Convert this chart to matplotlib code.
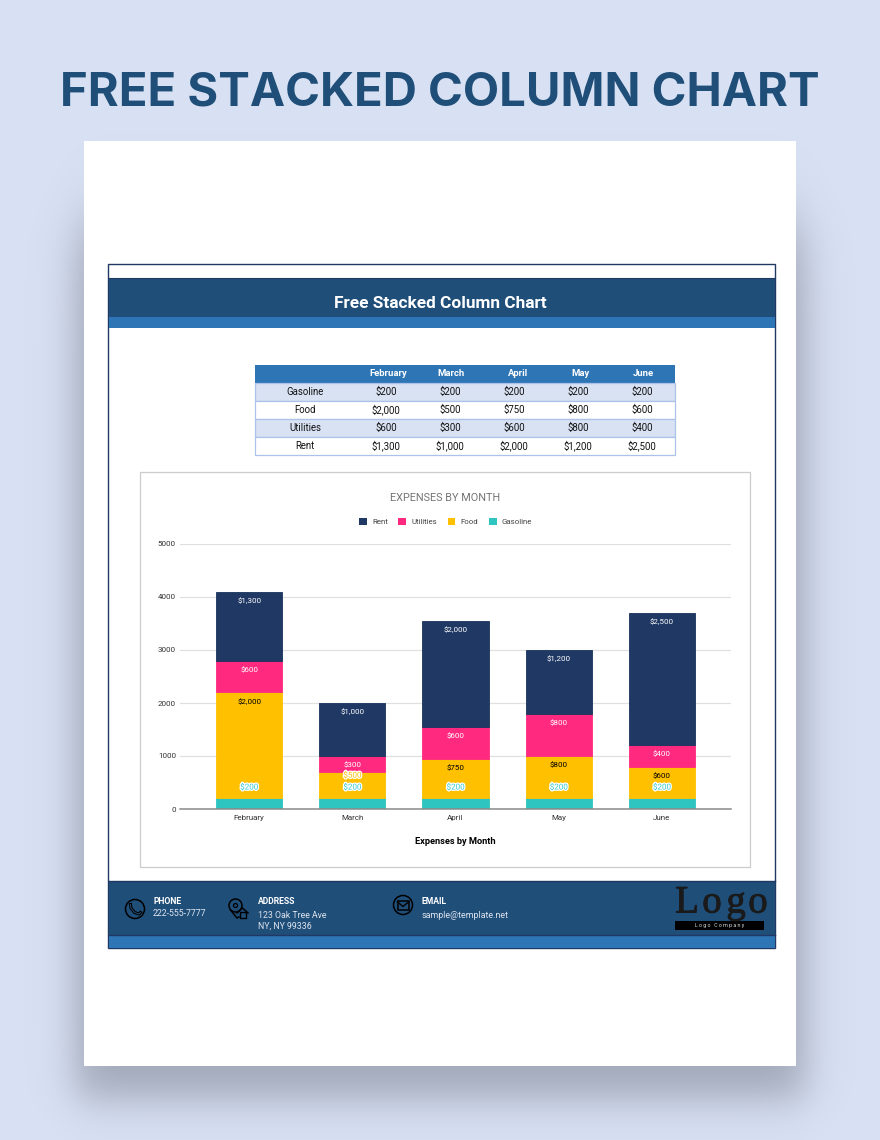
import numpy as np
import matplotlib
matplotlib.use('Agg')
import matplotlib.pyplot as plt
import matplotlib.patheffects as pe
from matplotlib.patches import Rectangle, Circle, Patch

months = ['February', 'March', 'April', 'May', 'June']
gasoline = [200, 200, 200, 200, 200]
food = [2000, 500, 750, 800, 600]
utilities = [600, 300, 600, 800, 400]
rent = [1300, 1000, 2000, 1200, 2500]
y_ticks = [0, 1000, 2000, 3000, 4000, 5000]

navy = '#1f4e79'
blue = '#2e75b6'
pale = '#d9e2f3'
bg = '#d8e1f3'
seg_colors = {'Rent': '#1f3864', 'Utilities': '#ff2a7f', 'Food': '#ffc000', 'Gasoline': '#2ec4bf'}

plt.rcParams['font.family'] = ['Roboto', 'DejaVu Sans']

W, H = 880, 1140
fig = plt.figure(figsize=(W / 100, H / 100), dpi=100, facecolor=bg)

# page layer in pixel coordinates, y going down
page = fig.add_axes([0, 0, 1, 1])
page.set_xlim(0, W)
page.set_ylim(H, 0)
page.axis('off')


def box(x0, y0, x1, y1, fc='white', ec='none', lw=0, z=2):
    page.add_patch(Rectangle((x0, y0), x1 - x0, y1 - y0, fc=fc, ec=ec, lw=lw, zorder=z))


def label(x, y, s, size=6.5, color='black', weight='normal', ha='center', **kw):
    return page.text(x, y, s, fontsize=size, color=color, fontweight=weight, ha=ha, va='center', zorder=6, **kw)


# soft shadow behind the sheet
xx, yy = np.meshgrid(np.arange(W), np.arange(H))
sx = 0.5 * (np.tanh((xx - 75) / 22) - np.tanh((xx - 805) / 22))
sy = 0.5 * (np.tanh((yy - 225) / 40) - np.tanh((yy - 1098) / 25))
shade = np.zeros((H, W, 4))
shade[..., :3] = (0.30, 0.32, 0.38)
shade[..., 3] = 0.40 * sx * sy
page.imshow(shade, extent=(0, W, H, 0), aspect='auto', zorder=1, interpolation='bilinear')
page.set_xlim(0, W)
page.set_ylim(H, 0)

box(84, 141, 796, 1066)

label(440, 94, 'FREE STACKED COLUMN CHART', size=34, color=navy, weight='bold', family=['Inter', 'DejaVu Sans'])

# sheet frame and bands
box(108, 263.5, 775, 948, fc='white', ec='#1f3864', lw=1.0, z=2)
box(108.5, 278, 774.5, 316, fc=navy, z=3)
box(108.5, 316, 774.5, 328, fc=blue, z=3)
page.plot([108.5, 774.5], [278, 278], color='#1f3864', lw=0.8, zorder=4)
page.plot([108.5, 774.5], [316, 316], color='#1f3864', lw=0.5, zorder=4)
label(440.5, 303.5, 'Free Stacked Column Chart', size=12.4, color='white', weight='bold')

# small table above the chart
table_x = [255, 355, 419, 483, 547, 611, 675]
row_y = [365, 383, 401, 419, 437, 455]
col_mid = [386, 450, 514, 578, 642]
head_mid = [388, 451, 518, 581, 643]
box(table_x[0], row_y[0], table_x[-1], row_y[1], fc=blue, z=3)
for m, x in zip(months, head_mid):
    label(x, 373.7, m, size=6.8, color='white', weight='bold')
rows = [('Gasoline', gasoline), ('Food', food), ('Utilities', utilities), ('Rent', rent)]
for i, (name, vals) in enumerate(rows):
    y0, y1 = row_y[i + 1], row_y[i + 2]
    box(table_x[0], y0, table_x[-1], y1, fc=pale if i % 2 == 0 else 'white', ec='#adc2e8', lw=0.9, z=3)
    label(305, (y0 + y1) / 2 - 0.3, name, size=6.9, color='#111111')
    for x, v in zip(col_mid, vals):
        label(x, (y0 + y1) / 2 - 0.3, f'${v:,}', size=6.9, color='#111111')

# chart card
box(140, 472, 750, 867, fc='white', ec='#cccccc', lw=0.9, z=3)
label(445.5, 498, 'EXPENSES BY MONTH', size=7.8, color='#757575')

# footer
box(108.5, 881, 774.5, 935, fc=navy, z=3)
box(108.5, 935, 774.5, 947.5, fc=blue, z=3)
page.plot([108.5, 774.5], [881, 881], color='#1f3864', lw=1, zorder=4)
page.plot([108.5, 774.5], [935, 935], color='#1f3864', lw=1, zorder=4)
for cx, cy in [(135, 909), (403, 905)]:
    page.add_patch(Circle((cx, cy), 9.5, fc='none', ec='black', lw=1.1, zorder=5))
# phone icon
page.plot([130.5, 131, 134.5, 139, 140.5], [904.5, 908, 912.5, 914, 912.5], color='black', lw=2.2, zorder=5)
page.plot([130.5, 131, 134.5, 139, 140.5], [904.5, 908, 912.5, 914, 912.5], color=navy, lw=0.7, zorder=5)
# mail icon
page.add_patch(Rectangle((397.5, 900.5), 11, 9, fc='none', ec='black', lw=1.1, zorder=5))
page.plot([397.5, 403, 408.5], [902, 906.5, 902], color='black', lw=1, zorder=5)
# address pin and house
page.add_patch(Circle((235.5, 905.5), 6.5, fc='none', ec='black', lw=1.1, zorder=5))
page.add_patch(Circle((235.5, 905.5), 2, fc='none', ec='black', lw=0.9, zorder=5))
page.plot([230.5, 237, 239], [910, 918, 917], color='black', lw=1.1, zorder=5)
page.add_patch(Rectangle((239.5, 912), 6, 6, fc=navy, ec='black', lw=1, zorder=5))
page.plot([237, 242.5, 248], [913, 908, 913], color='black', lw=1.1, zorder=5)

label(153, 901, 'PHONE', size=6.2, color='white', weight='bold', ha='left')
label(153, 914, '222-555-7777', size=6.3, color='#dfe5ef', ha='left')
label(258, 901, 'ADDRESS', size=6.2, color='white', weight='bold', ha='left')
label(258, 915, '123 Oak Tree Ave', size=6.3, color='#dfe5ef', ha='left')
label(258, 926, 'NY, NY 99336', size=6.3, color='#dfe5ef', ha='left')
label(422, 901, 'EMAIL', size=6.2, color='white', weight='bold', ha='left')
label(422, 915, 'sample@template.net', size=6.4, color='#dfe5ef', ha='left')
for lx, ch in zip([687, 712, 736, 758], 'Logo'):
    t = label(lx, 903, ch, size=28, color='#1a1a1a', family='Liberation Serif')
    t.set_path_effects([pe.withStroke(linewidth=0.6, foreground='#1a1a1a')])
box(675, 921, 764, 929.5, fc='black', z=5)
label(719.5, 925.2, 'L o g o   C o m p a n y', size=3.8, color='#dddddd')

# the chart itself, placed on the same pixel grid
ax_left, ax_right, ax_top, ax_bottom = 180, 731, 544, 809
ax = fig.add_axes([ax_left / W, 1 - ax_bottom / H, (ax_right - ax_left) / W, (ax_bottom - ax_top) / H])
ax.patch.set_alpha(0)
ax.set_zorder(5)
pos = np.arange(len(months))
ax.set_xlim(-0.67, 4.67)
ax.set_ylim(0, 5000)
ax.yaxis.grid(True, color='#e0e0e0', lw=0.9)
ax.set_axisbelow(True)
for s in ['top', 'right', 'left']:
    ax.spines[s].set_visible(False)
ax.spines['bottom'].set_color('#8a8a8a')
ax.spines['bottom'].set_linewidth(1.1)
ax.spines['bottom'].set_zorder(6)
ax.tick_params(length=0, labelsize=5.8, labelcolor='#333333')
ax.tick_params(axis='x', pad=4)
ax.tick_params(axis='y', pad=3)
ax.set_xticks(pos, months)
ax.set_yticks(y_ticks)

w = 0.64
bottom = np.zeros(len(months))
stack = [('Gasoline', gasoline), ('Food', food), ('Utilities', utilities), ('Rent', rent)]
for name, vals in stack:
    vals = np.array(vals)
    edge = '#17325c' if name == 'Rent' else seg_colors[name]
    ax.bar(pos, vals, w, bottom=bottom, color=seg_colors[name], edgecolor=edge, linewidth=0.6, label=name, zorder=3)
    tops = bottom + vals
    for x, top, v in zip(pos, tops, vals):
        txt = f'${v:,}'
        if name == 'Gasoline':
            a = ax.annotate(txt, (x, top), xytext=(0, 8), textcoords='offset points', ha='center', va='center',
                            fontsize=5.8, color='#35c8d0', zorder=5)
            a.set_path_effects([pe.withStroke(linewidth=1.8, foreground='white')])
        elif name == 'Food' and v == 500:
            a = ax.annotate(txt, (x, top), xytext=(0, -2.5), textcoords='offset points', ha='center', va='center',
                            fontsize=5.8, color='#ffc000', zorder=5)
            a.set_path_effects([pe.withStroke(linewidth=1.8, foreground='white')])
        else:
            col = 'black' if name == 'Food' else 'white'
            ax.annotate(txt, (x, top), xytext=(0, -6.5), textcoords='offset points', ha='center', va='center',
                        fontsize=5.8, color=col, zorder=5)
    bottom = tops

handles = [Patch(fc=seg_colors[n], label=n) for n in ['Rent', 'Utilities', 'Food', 'Gasoline']]
ax.legend(handles=handles, ncol=4, loc='center', bbox_to_anchor=(445.5 / W, 1 - 521.5 / H), bbox_transform=fig.transFigure,
          frameon=False, fontsize=5.7, labelcolor='#444444', handlelength=1.0, handleheight=1.0,
          handletextpad=0.6, columnspacing=1.35)

label(455.5, 842, 'Expenses by Month', size=6.7, color='black', weight='bold')

fig.savefig('out.png', dpi=100, facecolor=bg)
